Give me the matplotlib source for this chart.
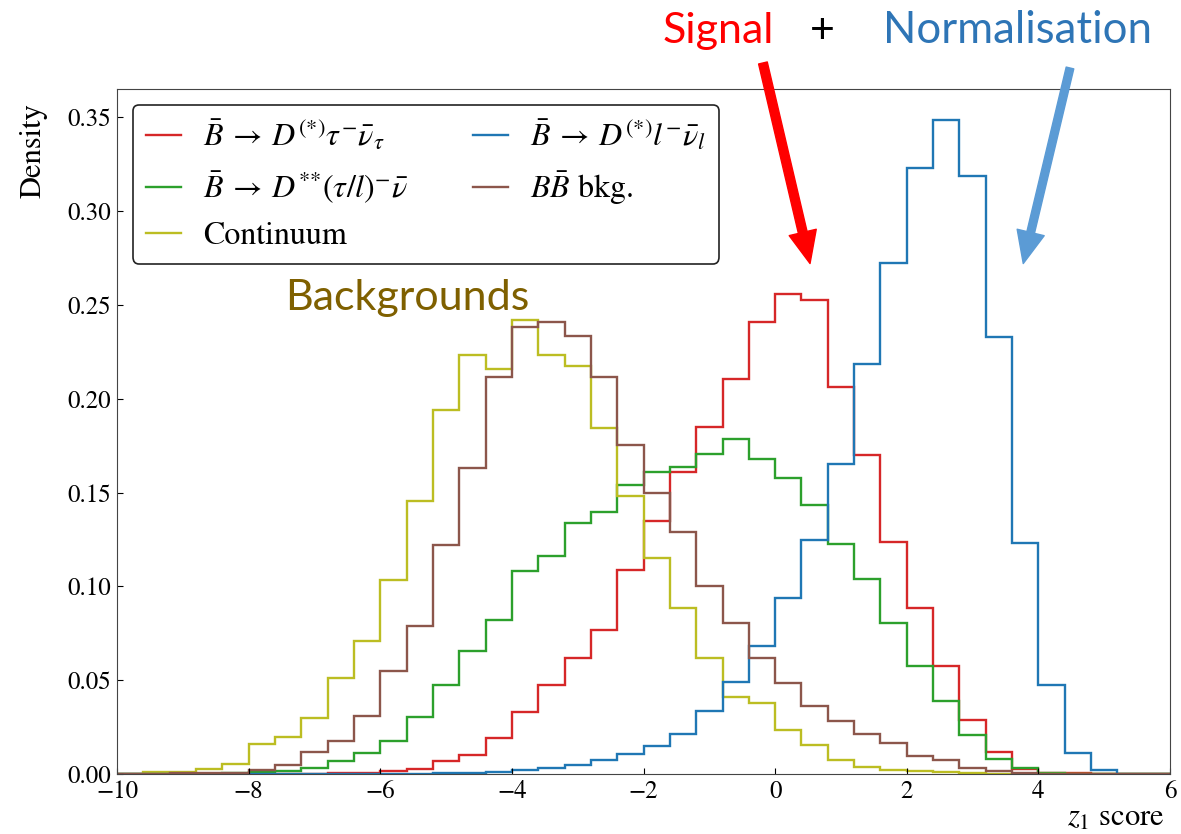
import numpy as np
import matplotlib
matplotlib.use("Agg")
import matplotlib.pyplot as plt

# 40 bins of width 0.4 between -10 and 6
bin_edges = np.linspace(-10, 6, 41)

signal = [0, 0, 0, 0, 0, 0, 0, 0.0002, 0.0003, 0.0005,
          0.0016, 0.0027, 0.0071, 0.010, 0.019, 0.0328, 0.0472, 0.0618, 0.0769, 0.1088,
          0.1348, 0.161, 0.185, 0.2107, 0.241, 0.2556, 0.2525, 0.206, 0.170, 0.1236,
          0.0883, 0.0578, 0.0290, 0.012, 0.0028, 0.0007, 0.0003, 0, 0, 0]
dstarstar = [0, 0, 0, 0, 0.0005, 0.001, 0.0016, 0.003, 0.0067, 0.0112,
             0.0178, 0.0304, 0.0474, 0.0657, 0.0822, 0.108, 0.116, 0.134, 0.1394, 0.154,
             0.161, 0.1637, 0.1706, 0.1785, 0.1678, 0.1578, 0.1434, 0.1224, 0.1038, 0.0807,
             0.0573, 0.0387, 0.0209, 0.0082, 0.0032, 0.0005, 0, 0, 0, 0]
continuum = [0, 0.0009, 0.001, 0.0028, 0.0055, 0.016, 0.0197, 0.030, 0.051, 0.071,
             0.1035, 0.1456, 0.1937, 0.2235, 0.2157, 0.242, 0.2232, 0.2175, 0.1843, 0.148,
             0.115, 0.0885, 0.062, 0.0413, 0.038, 0.0234, 0.0155, 0.0075, 0.004, 0.0023,
             0.0015, 0.0009, 0.0005, 0.0002, 0, 0, 0, 0, 0, 0]
normalisation = [0, 0, 0, 0, 0, 0, 0, 0, 0, 0,
                 0.0001, 0.0002, 0.0005, 0.0007, 0.0012, 0.002, 0.003, 0.005, 0.0075, 0.0107,
                 0.015, 0.0215, 0.0334, 0.049, 0.0683, 0.0938, 0.1248, 0.165, 0.2184, 0.2723,
                 0.323, 0.3484, 0.3189, 0.233, 0.123, 0.0475, 0.011, 0.002, 0, 0]
bbbar = [0, 0, 0.0003, 0.0005, 0.0006, 0.002, 0.005, 0.0115, 0.0174, 0.031,
         0.0547, 0.079, 0.1218, 0.163, 0.2115, 0.238, 0.241, 0.2335, 0.2118, 0.1754,
         0.150, 0.129, 0.100, 0.0807, 0.0616, 0.0484, 0.0365, 0.0284, 0.0215, 0.0168,
         0.0098, 0.0076, 0.0032, 0.0014, 0.0005, 0, 0, 0, 0, 0]

labels = [r"$\bar{B}\:\rightarrow\:D^{(*)}\tau^{-}\bar{\nu}_{\tau}$",
          r"$\bar{B}\:\rightarrow\:D^{{*}{*}}(\tau/l)^{-}\bar{\nu}$",
          "Continuum",
          r"$\bar{B}\:\rightarrow\:D^{(*)}l^{-}\bar{\nu}_{l}$",
          r"$B\bar{B}$ bkg."]
series = [signal, dstarstar, continuum, normalisation, bbbar]
colors = ["tab:red", "tab:green", "tab:olive", "tab:blue", "tab:brown"]

plt.rcParams["font.family"] = "STIXGeneral"
plt.rcParams["mathtext.fontset"] = "stix"

fig = plt.figure(figsize=(11.81, 8.34), dpi=100)
ax = fig.add_axes([0.0991, 0.0719, 0.8916, 0.8214])

for vals, lab, col in zip(series, labels, colors):
    ax.stairs(vals, bin_edges, color=col, lw=1.7, label=lab)

ax.set_xlim(-10, 6)
ax.set_ylim(0, 0.365)
ax.set_xticks([-10, -8, -6, -4, -2, 0, 2, 4, 6])
ax.set_yticks(np.arange(0, 0.36, 0.05))
ax.yaxis.set_major_formatter(plt.FormatStrFormatter("%.2f"))
ax.tick_params(direction="in", length=4, labelsize=18, pad=4)
for sp in ax.spines.values():
    sp.set_color("#444444")

ax.set_xlabel(r"$z_1$ score", fontsize=22, loc="right")
ax.xaxis.set_label_coords(0.995, -0.045)
ax.set_ylabel("Density", fontsize=22)
ax.yaxis.set_label_coords(-0.066, 0.91)

leg = ax.legend(ncol=2, loc="upper left", fontsize=23, handlelength=1.1,
                handletextpad=0.7, columnspacing=2.0, labelspacing=0.5,
                borderaxespad=0.5, fancybox=True,
                edgecolor="#222222", framealpha=1)
leg.get_frame().set_linewidth(1.2)

# slide annotations
note_font = "Lato"
fig.text(0.608, 0.9484, "Signal", color="red", fontsize=31, family=note_font,
         ha="center", va="baseline")
fig.text(0.696, 0.9484, "+", color="black", fontsize=31, family=note_font,
         ha="center", va="baseline")
fig.text(0.8615, 0.9484, "Normalisation", color="#2E75B6", fontsize=31.5,
         family=note_font, ha="center", va="baseline")
fig.text(0.3445, 0.628, "Backgrounds", color="#7F6000", fontsize=31,
         family=note_font, ha="center", va="baseline")

ax.annotate("", xy=(0.53, 0.272), xycoords="data",
            xytext=(0.646, 0.9245), textcoords="figure fraction",
            arrowprops=dict(arrowstyle="simple,head_length=1.15,head_width=1.0,tail_width=0.32",
                            color="red", mutation_scale=20, shrinkA=0, shrinkB=0),
            annotation_clip=False)
ax.annotate("", xy=(3.77, 0.272), xycoords="data",
            xytext=(0.906, 0.9185), textcoords="figure fraction",
            arrowprops=dict(arrowstyle="simple,head_length=1.15,head_width=1.0,tail_width=0.28",
                            color="#5B9BD5", mutation_scale=20, shrinkA=0, shrinkB=0),
            annotation_clip=False)

fig.savefig("out.png", dpi=100)
